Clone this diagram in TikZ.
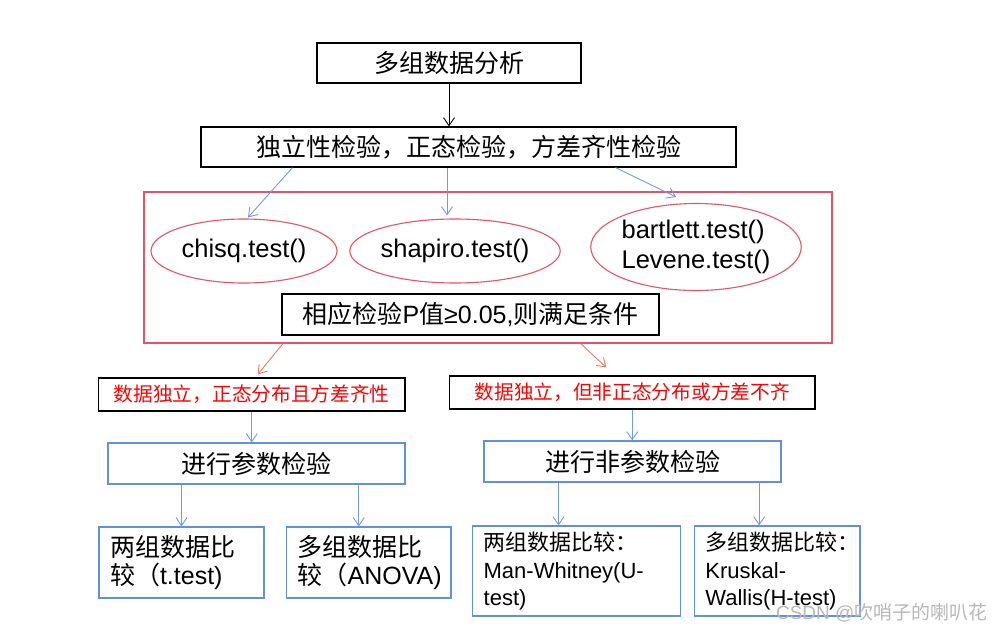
\documentclass[tikz,border=0pt]{standalone}
\usepackage{fontspec}
\setmainfont{Liberation Sans}
\newfontfamily\cjk{Noto Sans CJK SC}
\usetikzlibrary{arrows.meta,shapes.geometric,calc}

\definecolor{grpred}{RGB}{232,82,102}
\definecolor{flowblue}{RGB}{110,155,232}
\definecolor{boxblue}{RGB}{95,145,222}
\definecolor{flowsalmon}{RGB}{236,122,104}

\begin{document}
\begin{tikzpicture}[x=1pt, y=-1pt,
  kbox/.style={draw=black, line width=1.2pt, inner sep=0pt,
               font=\fontsize{25}{30}\selectfont\cjk},
  grp/.style={draw=grpred, line width=1.1pt, inner sep=0pt},
  testell/.style={ellipse, draw=grpred, line width=1.1pt, inner sep=0pt,
                  align=left, font=\fontsize{25.5}{30}\selectfont},
  condbox/.style={draw=black, line width=1.2pt, inner sep=0pt, text=red,
                  minimum height=33, font=\fontsize{19.7}{24}\selectfont\cjk},
  bbox/.style={draw=boxblue, line width=1.2pt, inner sep=0pt,
               minimum width=297, minimum height=41,
               font=\fontsize{25}{30}\selectfont\cjk},
  leaf/.style={draw=boxblue, line width=1.2pt, inner xsep=11pt, inner ysep=0pt,
               align=left},
  karrow/.style={-{Straight Barb[length=8pt,width=11pt]}, line width=0.9pt, black},
  barrow/.style={-{Straight Barb[length=8pt,width=11pt]}, line width=0.9pt, flowblue},
  rarrow/.style={-{Straight Barb[length=8pt,width=11pt]}, line width=0.9pt, flowsalmon},
  wmark/.style={text=black!28, font=\fontsize{19}{23}\selectfont},
]
\useasboundingbox[fill=white] (0,0) rectangle (1002,632);

% ---- top: analysis and the three checks ----
\node[kbox, minimum width=264, minimum height=40] (top) at (449,63) {多组数据分析};
\node[kbox, minimum width=535, minimum height=40] (tests) at (468.5,147)
  {独立性检验，正态检验，方差齐性检验};

% ---- red group with the R test calls ----
\node[grp, minimum width=688, minimum height=151] (grp) at (488,267.5) {};
\node[testell, minimum width=186, minimum height=64] (chisq) at (244,251) {chisq.test()};
\node[testell, minimum width=193, minimum height=64] (shapiro) at (455,251) {shapiro.test()};
\node[testell, minimum width=204, minimum height=87] (bartlett) at (696,247)
  {bartlett.test()\\Levene.test()};
\node[kbox, minimum width=377, minimum height=41] (pval) at (470.5,314.5)
  {相应检验{\fontspec{Liberation Sans}P}值{\fontspec{Liberation Sans}≥0.05,}则满足条件};

% ---- the two outcomes ----
\node[condbox, minimum width=306.5] (condL) at (251.75,394.5) {数据独立，正态分布且方差齐性};
\node[condbox, minimum width=365.5] (condR) at (632.25,392.5) {数据独立，但非正态分布或方差不齐};
\node[bbox] (param) at (256.5,463.5) {进行参数检验};
\node[bbox] (nonparam) at (632.5,461.5) {进行非参数检验};

% ---- leaf boxes ----
\node[leaf, text width=143, minimum height=71, font=\fontsize{25}{28.5}\selectfont] (twoP)
  at (181.5,562.5) {{\cjk 两组数据比}\\{\cjk 较（}t.test)};
\node[leaf, text width=142.4, minimum height=71, font=\fontsize{25}{28.5}\selectfont] (multiP)
  at (368.8,562.5) {{\cjk 多组数据比}\\{\cjk 较（}ANOVA)};
\node[leaf, text width=185.7, minimum height=90, font=\fontsize{22}{27.5}\selectfont] (twoN)
  at (576.5,571) {{\cjk 两组数据比较：}\\Man-Whitney(U-\\test)};
\node[leaf, text width=143.6, minimum height=90, font=\fontsize{22}{27.5}\selectfont] (multiN)
  at (777.2,571) {{\cjk 多组数据比较：}\\Kruskal-\\Wallis(H-test)};

% ---- connectors ----
\draw[karrow] (top.south) -- (top.south |- tests.north);
\draw[barrow] ([xshift=-176pt]tests.south) -- ([xshift=4pt,yshift=1pt]chisq.north);
\draw[barrow] ([xshift=-21.5pt]tests.south) -- ([xshift=-8pt,yshift=3pt]shapiro.north);
\draw[barrow] ([xshift=147pt]tests.south) -- ([xshift=-20pt,yshift=6pt]bartlett.north);
\draw[rarrow] ([xshift=-205pt]grp.south) -- ([xshift=6pt,yshift=3pt]condL.north);
\draw[rarrow] ([xshift=92.6pt]grp.south) -- ([xshift=-26pt,yshift=8pt]condR.north);
\draw[barrow] (condL.south) -- (condL.south |- param.north);
\draw[barrow] (condR.south) -- (condR.south |- nonparam.north);
\draw[barrow] (param.south -| twoP.north) -- (twoP.north);
\draw[barrow] (param.south -| {$(multiP.north)+(-10,0)$}) -- ([xshift=-10pt]multiP.north);
\draw[barrow] (nonparam.south -| {$(twoN.north)+(-18,0)$}) -- ([xshift=-18pt]twoN.north);
\draw[barrow] (nonparam.south -| {$(multiN.north)+(-18,0)$}) -- ([xshift=-18pt]multiN.north);

% ---- watermark ----
\node[wmark, anchor=east] (wm) at (991,613) {CSDN @{\cjk 吹哨子的喇叭花}};

\end{tikzpicture}
\end{document}
